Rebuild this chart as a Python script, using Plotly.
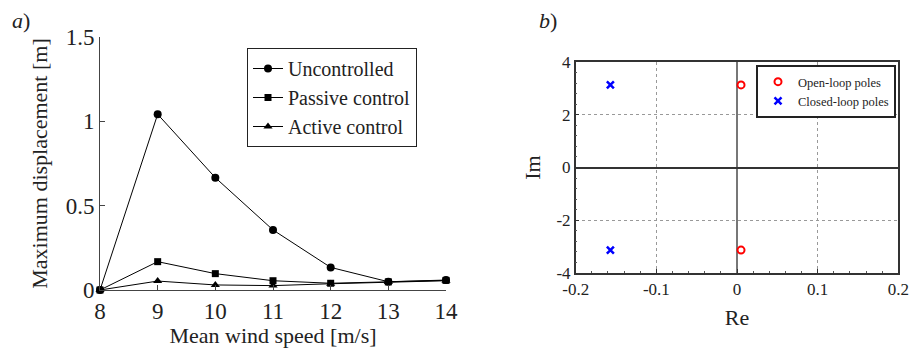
import plotly.graph_objects as go

wind_speed = [8, 9, 10, 11, 12, 13, 14]
uncontrolled = [0.0, 1.042, 0.666, 0.356, 0.134, 0.049, 0.059]
passive = [0.0, 0.168, 0.097, 0.055, 0.040, 0.048, 0.057]
active = [0.0, 0.053, 0.030, 0.026, 0.037, 0.048, 0.055]

open_re = [0.005, 0.005]
open_im = [3.14, -3.14]
closed_re = [-0.157, -0.157]
closed_im = [3.14, -3.14]

W, H = 911, 348
SERIF = "Liberation Serif"

fig = go.Figure()
line_style = dict(color="black", width=1)
fig.add_trace(go.Scatter(x=wind_speed, y=uncontrolled, mode="lines+markers", name="Uncontrolled",
                         line=line_style, marker=dict(symbol="circle", size=8, color="black"),
                         cliponaxis=False, xaxis="x", yaxis="y", legend="legend"))
fig.add_trace(go.Scatter(x=wind_speed, y=passive, mode="lines+markers", name="Passive control",
                         line=line_style, marker=dict(symbol="square", size=7, color="black"),
                         cliponaxis=False, xaxis="x", yaxis="y", legend="legend"))
fig.add_trace(go.Scatter(x=wind_speed, y=active, mode="lines+markers", name="Active control",
                         line=line_style, marker=dict(symbol="triangle-up", size=8, color="black"),
                         cliponaxis=False, xaxis="x", yaxis="y", legend="legend"))

fig.add_trace(go.Scatter(x=open_re, y=open_im, mode="markers", name="Open-loop poles",
                         marker=dict(symbol="circle-open", size=7, color="red", line=dict(width=2)),
                         xaxis="x2", yaxis="y2", legend="legend2"))
fig.add_trace(go.Scatter(x=closed_re, y=closed_im, mode="markers", name="Closed-loop poles",
                         marker=dict(symbol="x-thin-open", size=7, color="blue", line=dict(width=2.5, color="blue")),
                         xaxis="x2", yaxis="y2", legend="legend2"))

def dom(a, b, total):
    return [a / total, b / total]

fig.update_layout(
    width=W, height=H,
    margin=dict(l=0, r=0, t=0, b=0),
    paper_bgcolor="white", plot_bgcolor="white",
    font=dict(family=SERIF, color="#222"),
    xaxis=dict(domain=dom(100, 446, W), range=[8, 14], tickvals=wind_speed,
               automargin=False,
               showline=True, linecolor="#444", linewidth=1, ticks="inside", ticklen=5,
               tickcolor="#444", showgrid=False, zeroline=False,
               tickfont=dict(size=23, family=SERIF),
               title=dict(text="Mean wind speed [m/s]", font=dict(size=22, family=SERIF), standoff=6)),
    yaxis=dict(domain=dom(348 - 290, 348 - 37, H), range=[0, 1.5], tickvals=[0, 0.5, 1, 1.5],
               ticktext=["0", "0.5", "1", "1.5"], automargin=False,
               showline=True, linecolor="#444", linewidth=1, ticks="inside", ticklen=5,
               tickcolor="#444", showgrid=False, zeroline=False,
               tickfont=dict(size=23, family=SERIF),
               title=dict(text="Maximum displacement [m]", font=dict(size=22, family=SERIF), standoff=11)),
    xaxis2=dict(domain=dom(575.7, 898.3, W), range=[-0.2, 0.2], tickvals=[-0.2, -0.1, 0, 0.1, 0.2],
                ticktext=["-0.2", "-0.1", "0", "0.1", "0.2"], automargin=False,
                showline=True, mirror=True, linecolor="#333", linewidth=1.5,
                ticks="inside", ticklen=4, tickcolor="#333",
                showgrid=True, gridcolor="#999", griddash="dot", gridwidth=1,
                zeroline=True, zerolinecolor="#777", zerolinewidth=2,
                minor=dict(ticks="inside", ticklen=2, dtick=0.02, tickcolor="#555", showgrid=False),
                tickfont=dict(size=17, family=SERIF),
                title=dict(text="Re", font=dict(size=22, family=SERIF), standoff=12),
                anchor="y2"),
    yaxis2=dict(domain=dom(348 - 272.7, 348 - 62.3, H), range=[-4, 4], tickvals=[-4, -2, 0, 2, 4],
                ticktext=["-4", "-2", "0", "2", "4"], automargin=False,
                showline=True, mirror=True, linecolor="#333", linewidth=1.5,
                ticks="inside", ticklen=4, tickcolor="#333",
                showgrid=True, gridcolor="#999", griddash="dot", gridwidth=1,
                zeroline=True, zerolinecolor="#333", zerolinewidth=1.5,
                minor=dict(ticks="inside", ticklen=2, dtick=0.4, tickcolor="#555", showgrid=False),
                tickfont=dict(size=17, family=SERIF),
                title=dict(text="Im", font=dict(size=22, family=SERIF), standoff=10),
                anchor="x2"),
    legend=dict(x=247 / W, y=1 - 48 / H, xanchor="left", yanchor="top",
                bgcolor="white", bordercolor="#222", borderwidth=1,
                font=dict(size=20, family=SERIF, color="#222"),
                itemwidth=30, tracegroupgap=0),
    legend2=dict(x=756 / W, y=1 - 65 / H, xanchor="left", yanchor="top",
                 bgcolor="white", bordercolor="#222", borderwidth=2,
                 font=dict(size=12.5, family=SERIF, color="#222"),
                 itemwidth=30, tracegroupgap=0),
    showlegend=True,
    annotations=[
        dict(text="<i>a</i>)", x=10 / W, y=1 - 20 / H, xref="paper", yref="paper",
             xanchor="left", yanchor="middle", showarrow=False, font=dict(size=22, family=SERIF)),
        dict(text="<i>b</i>)", x=537 / W, y=1 - 20 / H, xref="paper", yref="paper",
             xanchor="left", yanchor="middle", showarrow=False, font=dict(size=22, family=SERIF)),
    ],
)

fig.write_html("out.html", config={"displayModeBar": False},
               post_script="document.body.style.margin='0px';")
